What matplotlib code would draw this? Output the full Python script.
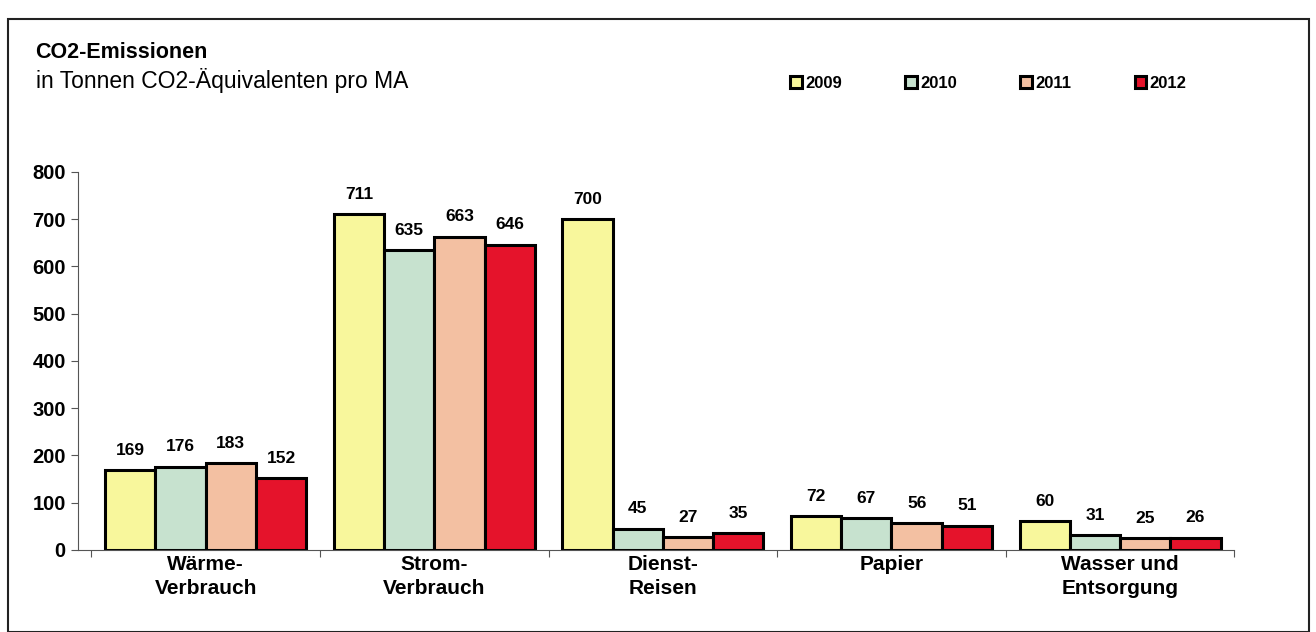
import numpy as np
import matplotlib.pyplot as plt
from matplotlib.patches import Rectangle

plt.rcParams['font.family'] = ['Liberation Sans', 'DejaVu Sans']

categories = ["Wärme-\nVerbrauch", "Strom-\nVerbrauch", "Dienst-\nReisen", "Papier", "Wasser und\nEntsorgung"]
years = ["2009", "2010", "2011", "2012"]
v2009 = [169, 711, 700, 72, 60]
v2010 = [176, 635, 45, 67, 31]
v2011 = [183, 663, 27, 56, 25]
v2012 = [152, 646, 35, 51, 26]
colors = ["#f8f79c", "#c7e2cf", "#f3c0a2", "#e5132b"]

fig = plt.figure(figsize=(13.16, 6.32), dpi=100)
fig.patches.append(Rectangle((0.006, 0.0), 0.989, 0.97, transform=fig.transFigure,
                             fill=False, edgecolor="#222222", linewidth=1.5))

ax = fig.add_axes([0.059, 0.130, 0.879, 0.598])
x = np.arange(len(categories))
w = 0.22
series = [v2009, v2010, v2011, v2012]
for i, vals in enumerate(series):
    pos = x + (i - 1.5) * w
    bars = ax.bar(pos, vals, w, color=colors[i], edgecolor="black", linewidth=2.2, label=years[i])
    for b, v in zip(bars, vals):
        ax.text(b.get_x() + b.get_width() / 2, v + 26, str(v), ha="center", va="bottom",
                fontsize=12.5, fontweight="bold")

ax.set_xlim(-0.56, len(categories) - 0.5)
ax.set_ylim(0, 800)
ax.set_yticks(range(0, 801, 100))
ax.set_yticklabels([str(t) for t in range(0, 801, 100)], fontsize=14.5, fontweight="bold")
ax.set_xticks(np.arange(-0.5, len(categories), 1.0), minor=False)
ax.set_xticklabels([])
ax.set_xticks(x, minor=True)
ax.set_xticklabels(categories, minor=True, fontsize=15, fontweight="bold", linespacing=1.3)
ax.tick_params(axis="x", which="minor", length=0, pad=4)
ax.tick_params(axis="x", which="major", length=5, color="#555555")
ax.tick_params(axis="y", length=5, color="#555555")
for s in ["top", "right"]:
    ax.spines[s].set_visible(False)
ax.spines["left"].set_color("#555555")
ax.spines["bottom"].set_color("#555555")

fig.text(0.027, 0.908, "CO2-Emissionen", fontsize=15.5, fontweight="bold", va="baseline")
fig.text(0.027, 0.861, "in Tonnen CO2-Äquivalenten pro MA", fontsize=16.5, va="baseline")

ax.legend(loc="lower left", bbox_to_anchor=(0.603, 1.175), ncol=4, frameon=False,
          prop={"weight": "bold", "size": 12}, handlelength=0.7, handleheight=0.7,
          handletextpad=0.2, columnspacing=3.8)

plt.savefig("out.png", dpi=100)
plt.close()
